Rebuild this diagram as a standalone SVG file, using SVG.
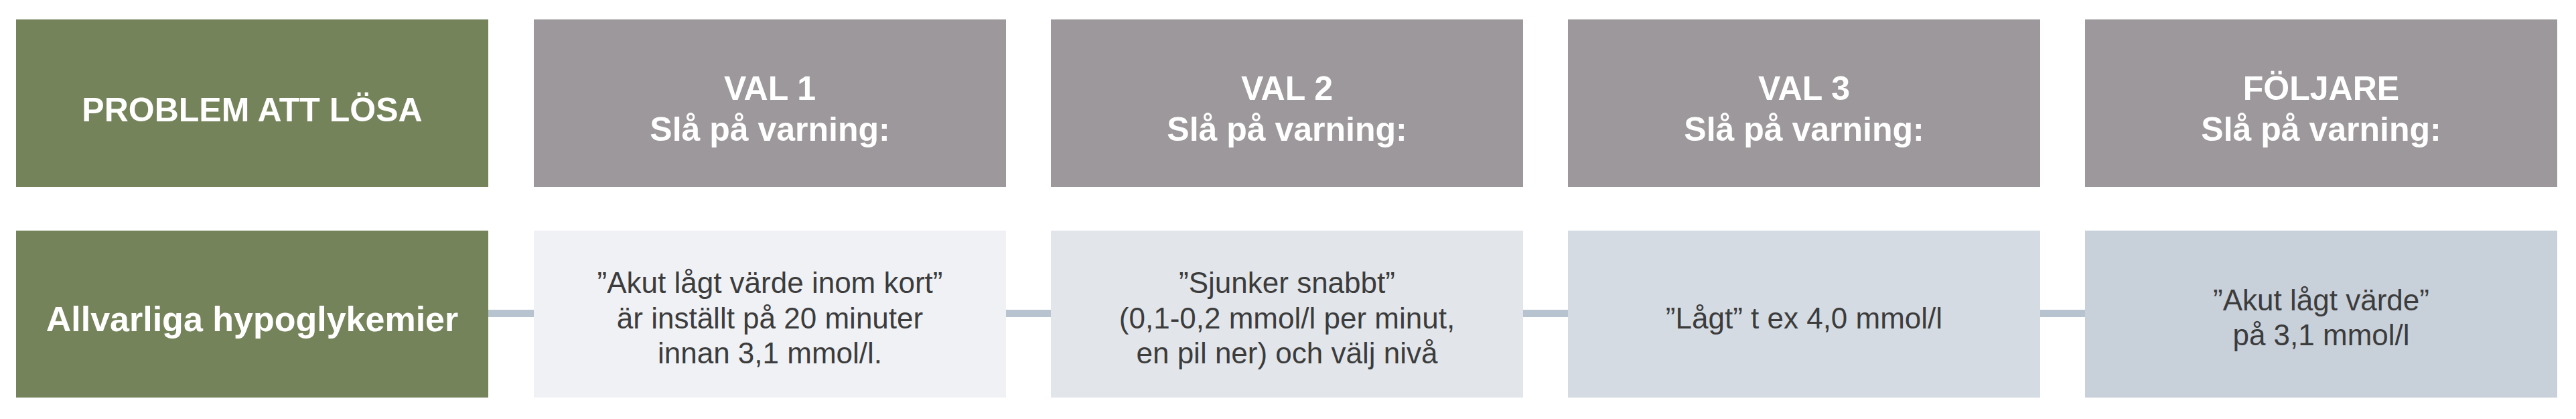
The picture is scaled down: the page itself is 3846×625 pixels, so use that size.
<svg xmlns="http://www.w3.org/2000/svg" width="3846" height="625" viewBox="0 0 3846 625">
<style>
.hd{fill:#9d989b}
.pb{fill:#74835a}
.t{font-family:"Liberation Sans",Arial,sans-serif;text-anchor:middle}
.w{fill:#ffffff;font-weight:bold;font-size:50px}
.d{fill:#3c3c3c;font-size:44px}
.c{fill:#b7c3ce}
</style>
<rect width="3846" height="625" fill="#ffffff"/>
<g id="connectors">
<rect class="c" x="728" y="462" width="70" height="11"/>
<rect class="c" x="1501" y="462" width="69" height="11"/>
<rect class="c" x="2272" y="462" width="70" height="11"/>
<rect class="c" x="3045" y="462" width="69" height="11"/>
</g>
<g id="problem-header">
<rect class="pb" x="24" y="29" width="705" height="250"/>
<text class="t w" x="376.5" y="181">PROBLEM ATT LÖSA</text>
</g>
<g id="val1-header">
<rect class="hd" x="797" y="29" width="705" height="250"/>
<text class="t w" x="1149.5" y="149">VAL 1</text>
<text class="t w" x="1149.5" y="210">Slå på varning:</text>
</g>
<g id="val2-header">
<rect class="hd" x="1569" y="29" width="705" height="250"/>
<text class="t w" x="1921.5" y="149">VAL 2</text>
<text class="t w" x="1921.5" y="210">Slå på varning:</text>
</g>
<g id="val3-header">
<rect class="hd" x="2341" y="29" width="705" height="250"/>
<text class="t w" x="2693.5" y="149">VAL 3</text>
<text class="t w" x="2693.5" y="210">Slå på varning:</text>
</g>
<g id="foljare-header">
<rect class="hd" x="3113" y="29" width="705" height="250"/>
<text class="t w" x="3465.5" y="149">FÖLJARE</text>
<text class="t w" x="3465.5" y="210">Slå på varning:</text>
</g>
<g id="problem">
<rect class="pb" x="24" y="344" width="705" height="249"/>
<text class="t w" x="376.5" y="494" style="font-size:52px">Allvarliga hypoglykemier</text>
</g>
<g id="val1">
<rect x="797" y="344" width="705" height="249" fill="#eff1f5"/>
<text class="t d" x="1149.5" y="437">”Akut lågt värde inom kort”</text>
<text class="t d" x="1149.5" y="490">är inställt på 20 minuter</text>
<text class="t d" x="1149.5" y="542">innan 3,1 mmol/l.</text>
</g>
<g id="val2">
<rect x="1569" y="344" width="705" height="249" fill="#e2e6eb"/>
<text class="t d" x="1921.5" y="437">”Sjunker snabbt”</text>
<text class="t d" x="1921.5" y="490">(0,1-0,2 mmol/l per minut,</text>
<text class="t d" x="1921.5" y="542">en pil ner) och välj nivå</text>
</g>
<g id="val3">
<rect x="2341" y="344" width="705" height="249" fill="#d4dbe3"/>
<text class="t d" x="2693.5" y="490">”Lågt” t ex 4,0 mmol/l</text>
</g>
<g id="foljare">
<rect x="3113" y="344" width="705" height="249" fill="#c8d0da"/>
<text class="t d" x="3465.5" y="463">”Akut lågt värde”</text>
<text class="t d" x="3465.5" y="515">på 3,1 mmol/l</text>
</g>
</svg>
